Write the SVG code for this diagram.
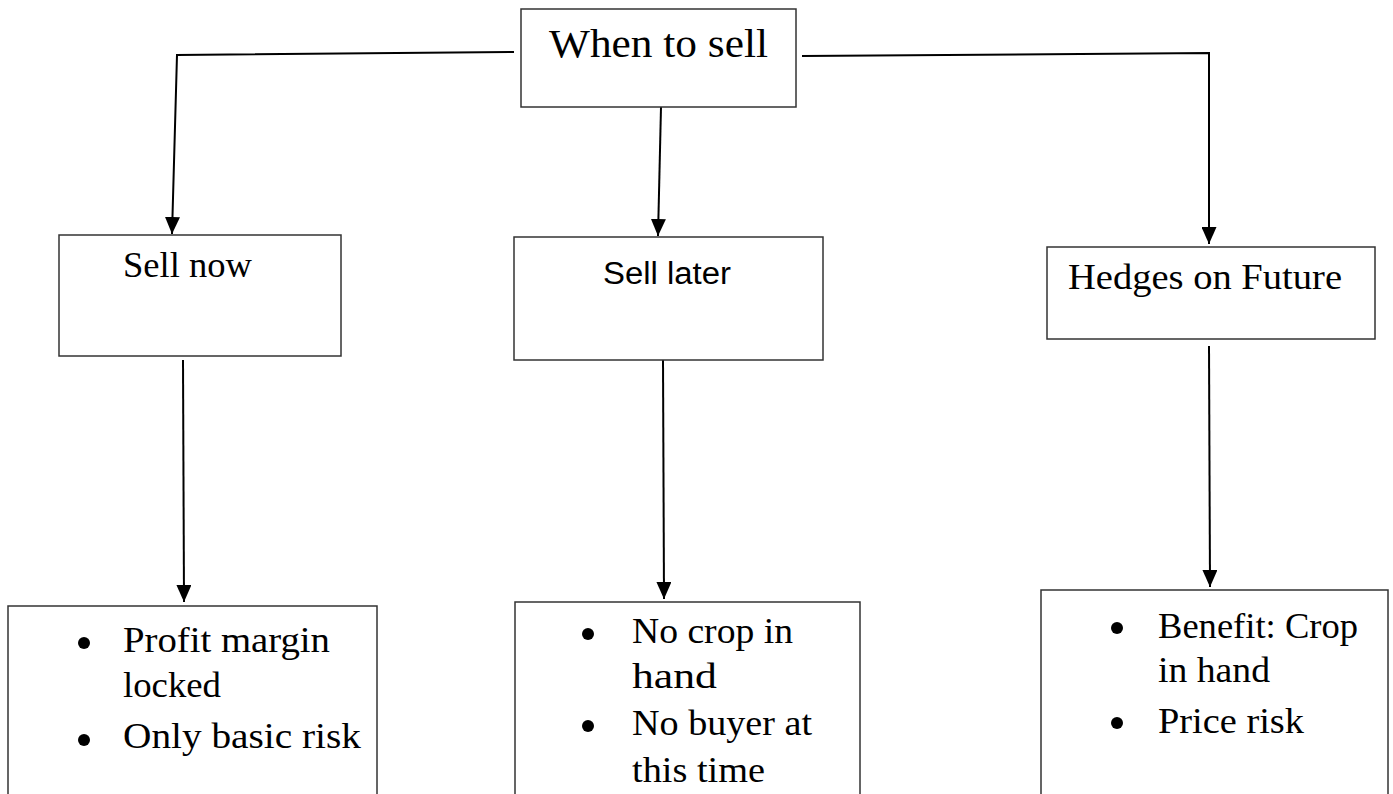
<svg xmlns="http://www.w3.org/2000/svg" width="1393" height="794" viewBox="0 0 1393 794">
<style>
.box{fill:#fff;stroke:#333;stroke-width:1.5}
.ln{fill:none;stroke:#000;stroke-width:2}
.t{font-family:"Liberation Serif",serif;fill:#000}
.s{font-family:"Liberation Sans",sans-serif;fill:#000}
.b{fill:#000}
</style>
<defs>
<marker id="ah" markerWidth="17" markerHeight="15" refX="17" refY="7.5" orient="auto" markerUnits="userSpaceOnUse" viewBox="0 0 17 15">
<path d="M0,0 L17,7.5 L0,15 Z" fill="#000"/>
</marker>
</defs>
<rect width="1393" height="794" fill="#fff"/>
<g id="connectors">
<polyline class="ln" points="514,52 177,55 172,234" marker-end="url(#ah)"/>
<polyline class="ln" points="802,56 1209,53 1209,244" marker-end="url(#ah)"/>
<line class="ln" x1="661" y1="107" x2="658" y2="236" marker-end="url(#ah)"/>
<line class="ln" x1="183" y1="360" x2="184" y2="602" marker-end="url(#ah)"/>
<line class="ln" x1="663" y1="360" x2="664" y2="599" marker-end="url(#ah)"/>
<line class="ln" x1="1209" y1="346" x2="1210" y2="587" marker-end="url(#ah)"/>
</g>
<g id="when">
<rect class="box" x="521" y="9" width="275" height="98"/>
<text class="t" x="549" y="57" font-size="40" textLength="219" lengthAdjust="spacingAndGlyphs">When to sell</text>
</g>
<g id="sellnow">
<rect class="box" x="59" y="235" width="282" height="121"/>
<text class="t" x="123" y="277" font-size="35" textLength="129" lengthAdjust="spacingAndGlyphs">Sell now</text>
</g>
<g id="selllater">
<rect class="box" x="514" y="237" width="309" height="123"/>
<text class="s" x="603" y="284" font-size="31" textLength="128" lengthAdjust="spacingAndGlyphs">Sell later</text>
</g>
<g id="hedges">
<rect class="box" x="1047" y="247" width="328" height="92"/>
<text class="t" x="1068" y="289" font-size="35" textLength="274" lengthAdjust="spacingAndGlyphs">Hedges on Future</text>
</g>
<g id="nowdetail">
<rect class="box" x="8" y="606" width="369" height="200"/>
<circle class="b" cx="84" cy="643" r="6"/>
<text class="t" x="123" y="652" font-size="35" textLength="207" lengthAdjust="spacingAndGlyphs">Profit margin</text>
<text class="t" x="123" y="697" font-size="35" textLength="98" lengthAdjust="spacingAndGlyphs">locked</text>
<circle class="b" cx="84" cy="740" r="6"/>
<text class="t" x="123" y="748" font-size="35" textLength="238" lengthAdjust="spacingAndGlyphs">Only basic risk</text>
</g>
<g id="laterdetail">
<rect class="box" x="515" y="602" width="345" height="204"/>
<circle class="b" cx="588" cy="634" r="6"/>
<text class="t" x="632" y="643" font-size="35" textLength="161" lengthAdjust="spacingAndGlyphs">No crop in</text>
<text class="t" x="632" y="688" font-size="35" textLength="85" lengthAdjust="spacingAndGlyphs">hand</text>
<circle class="b" cx="588" cy="726" r="6"/>
<text class="t" x="632" y="735" font-size="35" textLength="180" lengthAdjust="spacingAndGlyphs">No buyer at</text>
<text class="t" x="632" y="782" font-size="35" textLength="133" lengthAdjust="spacingAndGlyphs">this time</text>
</g>
<g id="hedgedetail">
<rect class="box" x="1041" y="590" width="347" height="216"/>
<circle class="b" cx="1117" cy="628" r="6"/>
<text class="t" x="1158" y="638" font-size="35" textLength="200" lengthAdjust="spacingAndGlyphs">Benefit: Crop</text>
<text class="t" x="1158" y="682" font-size="35" textLength="112" lengthAdjust="spacingAndGlyphs">in hand</text>
<circle class="b" cx="1117" cy="723" r="6"/>
<text class="t" x="1158" y="733" font-size="35" textLength="146" lengthAdjust="spacingAndGlyphs">Price risk</text>
</g>
</svg>
